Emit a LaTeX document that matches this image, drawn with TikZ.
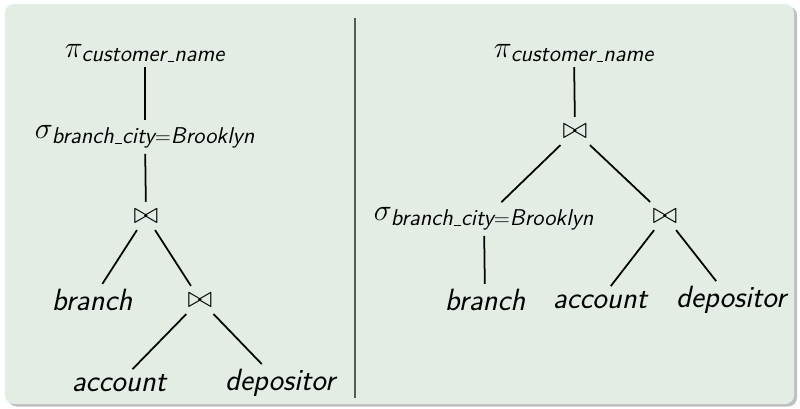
\documentclass[tikz,border=0pt]{standalone}
\usepackage{amsmath}
\usepackage{amssymb}
\usepackage{tikz}
\usetikzlibrary{calc}
\definecolor{blockbg}{RGB}{228,237,228}
\DeclareMathSizes{17.5}{17.5}{13}{9}
\newcommand{\rel}[1]{\text{\sffamily\itshape #1}}
% short underscore, as the old OT1 \_
\newcommand{\rlbar}{\leavevmode\kern.06em\vbox{\hrule width.3em}}
\tikzset{
	every node/.style={draw=none,rectangle,font=\fontsize{17.5}{21}\selectfont,outer sep=0pt,inner sep=3pt},
	op/.style={inner sep=4pt},
	edge/.style={line width=1pt},
	divider/.style={line width=0.8pt,black!65}
	}
\begin{document}
\begin{tikzpicture}
		\useasboundingbox (0,0) rectangle (16,8.16);
		% block background with its shadow
		\fill[black!25,rounded corners=5pt] (0.16,0.03) rectangle (15.94,8.03);
		\fill[blockbg,rounded corners=5pt] (0.1,0.08) rectangle (15.88,8.08);
		\coordinate (dtop) at (7.1,7.8);
		\coordinate (dbot) at (7.1,0.2);
		\draw[divider] (dtop) -- (dbot);

		% left plan
		\node (p1) at (2.9,7.1) {$\pi_{\rel{customer\rlbar name}}$};
		\node (s1) at (2.9,5.42) {$\sigma_{\rel{branch\rlbar city}=\rel{Brooklyn}}$};
		\node[op] (j1) at (2.92,3.84) {$\bowtie$};
		\node (b1) at (1.84,2.16) {\rel{branch}};
		\node[op] (j2) at (4.0,2.16) {$\bowtie$};
		\node (a1) at (2.38,0.5) {\rel{account}};
		\node (d1) at (5.6,0.5) {\rel{depositor}};

		\draw[edge] (p1) -- (s1);
		\draw[edge] (s1) -- (j1);
		\draw[edge] (j1) -- (b1);
		\draw[edge] (j1) -- (j2);
		\draw[edge] (j2) -- (a1);
		\draw[edge] (j2) -- (d1);

		% right plan
		\node (p2) at (11.48,7.1) {$\pi_{\rel{customer\rlbar name}}$};
		\node[op] (j3) at (11.5,5.54) {$\bowtie$};
		\node (s2) at (9.68,3.78) {$\sigma_{\rel{branch\rlbar city}=\rel{Brooklyn}}$};
		\node[op] (j4) at (13.3,3.84) {$\bowtie$};
		\node (b2) at (9.7,2.16) {\rel{branch}};
		\node (a2) at (12.0,2.16) {\rel{account}};
		\node (d2) at (14.62,2.16) {\rel{depositor}};

		\draw[edge] (p2) -- (j3);
		\draw[edge] (j3) -- (s2);
		\draw[edge] (j3) -- (j4);
		\draw[edge] (s2) -- (b2);
		\draw[edge] (j4) -- (a2);
		\draw[edge] (j4) -- (d2);
	\end{tikzpicture}
\end{document}
